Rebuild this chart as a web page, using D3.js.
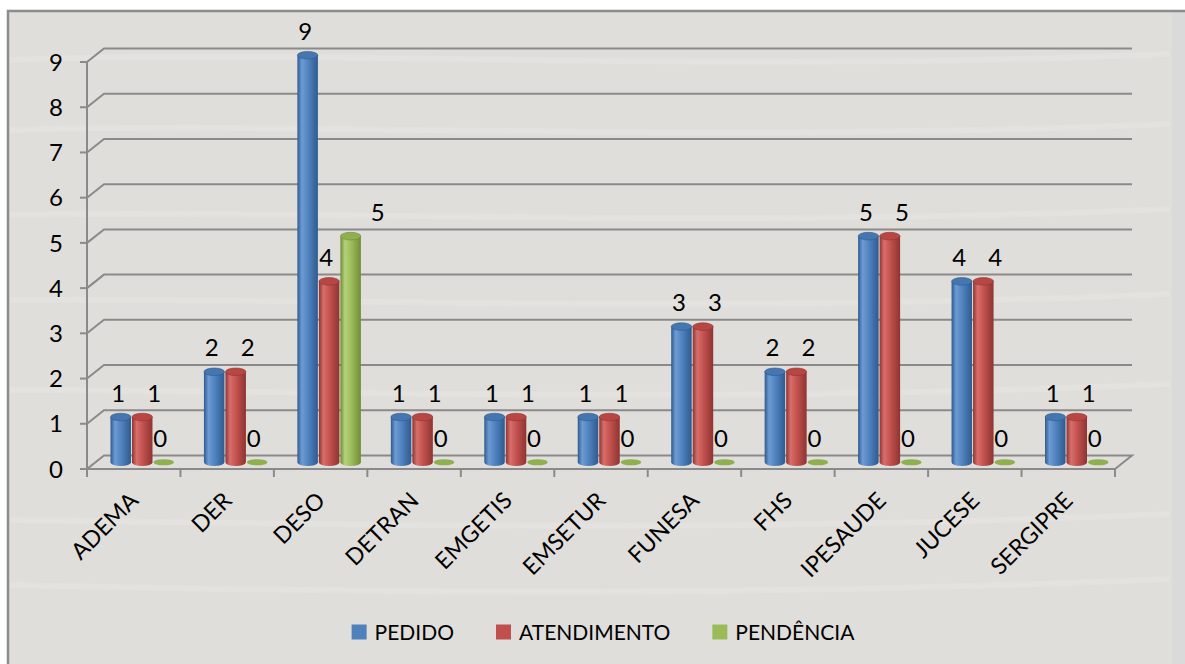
<!DOCTYPE html>
<html lang="pt">
<head>
<meta charset="UTF-8">
<title>Pedidos por órgão</title>
<script src="https://cdn.jsdelivr.net/npm/d3@7/dist/d3.min.js"></script>
<style>
    body { margin: 0; background: #fff; }
    text { font-family: Lato, "Open Sans", sans-serif; fill: #000; }
</style>
</head>
<body>
<script>
    // data
    const categories = ["ADEMA", "DER", "DESO", "DETRAN", "EMGETIS", "EMSETUR", "FUNESA", "FHS", "IPESAUDE", "JUCESE", "SERGIPRE"];
    const pedido = [1, 2, 9, 1, 1, 1, 3, 2, 5, 4, 1];
    const atendimento = [1, 2, 4, 1, 1, 1, 3, 2, 5, 4, 1];
    const pendencia = [0, 0, 5, 0, 0, 0, 0, 0, 0, 0, 0];
    const seriesNames = ["PEDIDO", "ATENDIMENTO", "PENDÊNCIA"];
    const yTicks = [0, 1, 2, 3, 4, 5, 6, 7, 8, 9];

    const width = 1185, height = 664;
    const colors = {
        PEDIDO: {base: "#4f81bd", light: "#6d9bd4", dark: "#2e5a8f", top: "#4676b0"},
        ATENDIMENTO: {base: "#c0504d", light: "#d86e6b", dark: "#8e3432", top: "#b84744"},
        "PENDÊNCIA": {base: "#9bbb59", light: "#b4d27a", dark: "#6f8c37", top: "#8fb04e"}
    };
    const values = {PEDIDO: pedido, ATENDIMENTO: atendimento, "PENDÊNCIA": pendencia};

    // 3d depth of the floor / back wall
    const depthX = 17, depthY = -13.5;

    const svg = d3.select("body").append("svg")
        .attr("width", width)
        .attr("height", height);

    const defs = svg.append("defs");
    seriesNames.forEach(function (s, i) {
        const c = colors[s];
        const g = defs.append("linearGradient")
            .attr("id", "cyl" + i)
            .attr("x1", "0%").attr("x2", "100%").attr("y1", "0%").attr("y2", "0%");
        g.append("stop").attr("offset", "0%").attr("stop-color", c.dark);
        g.append("stop").attr("offset", "22%").attr("stop-color", c.light);
        g.append("stop").attr("offset", "55%").attr("stop-color", c.base);
        g.append("stop").attr("offset", "100%").attr("stop-color", c.dark);
    });

    // background frame
    svg.append("rect")
        .attr("x", 8).attr("y", 11)
        .attr("width", width - 8).attr("height", height - 11)
        .attr("fill", "#e0dedb");
    svg.append("rect")
        .attr("x", 1172).attr("y", 12)
        .attr("width", 13).attr("height", height - 12)
        .attr("fill", "#dadada");
    svg.append("path")
        .attr("d", "M8,664 L8,11 L1185,11")
        .attr("fill", "none")
        .attr("stroke", "#8c8c8c")
        .attr("stroke-width", 2.5);

    // faint streaks of the texture
    const streaks = [60, 130, 215, 300, 390, 520, 585];
    svg.append("g").selectAll("path")
        .data(streaks)
        .enter().append("path")
        .attr("d", function (d, i) {
            return "M10," + d + " C300," + (d - 12 + i * 3) + " 700," + (d + 14) + " 1170," + (d - 6);
        })
        .attr("fill", "none")
        .attr("stroke", "#e7e5e3")
        .attr("stroke-width", 6)
        .attr("opacity", 0.5);

    const y = d3.scaleLinear().domain([0, 9]).range([469, 62]);
    const x = d3.scaleBand().domain(categories).range([87, 1115]).padding(0);
    const xs = d3.scaleBand().domain(seriesNames).range([-32.25, 32.25]).padding(0);
    const bw = xs.bandwidth();

    // gridlines (front-left diagonal then back wall)
    const grid = svg.append("g");
    grid.selectAll("path")
        .data(yTicks)
        .enter().append("path")
        .attr("d", function (d) {
            const yy = y(d);
            let p = "M87," + yy + " L" + (87 + depthX) + "," + (yy + depthY) + " L" + (1115 + depthX) + "," + (yy + depthY);
            if (d === 0) p += " L1115," + yy;
            return p;
        })
        .attr("fill", "none")
        .attr("stroke", "#8a8a8a")
        .attr("stroke-width", 2);

    // axes
    svg.append("line")
        .attr("x1", 87).attr("x2", 87).attr("y1", y(0)).attr("y2", y(9))
        .attr("stroke", "#8a8a8a").attr("stroke-width", 2);
    svg.append("line")
        .attr("x1", 87).attr("x2", 1115).attr("y1", y(0)).attr("y2", y(0))
        .attr("stroke", "#8a8a8a").attr("stroke-width", 2);

    svg.append("g").selectAll("line")
        .data(yTicks)
        .enter().append("line")
        .attr("x1", 80).attr("x2", 87)
        .attr("y1", function (d) { return y(d); })
        .attr("y2", function (d) { return y(d); })
        .attr("stroke", "#8a8a8a").attr("stroke-width", 2);

    svg.append("g").selectAll("text")
        .data(yTicks)
        .enter().append("text")
        .attr("x", 63)
        .attr("y", function (d) { return y(d); })
        .attr("dy", "0.36em")
        .attr("text-anchor", "end")
        .style("font-size", "24px")
        .text(function (d) { return d; });

    const catTicks = categories.map(function (c) { return x(c); }).concat([1115]);
    svg.append("g").selectAll("line")
        .data(catTicks)
        .enter().append("line")
        .attr("x1", function (d) { return d; })
        .attr("x2", function (d) { return d; })
        .attr("y1", y(0)).attr("y2", y(0) + 8)
        .attr("stroke", "#8a8a8a").attr("stroke-width", 2);

    svg.append("g").selectAll("text")
        .data(categories)
        .enter().append("text")
        .attr("transform", function (d) {
            return "translate(" + (x(d) + x.bandwidth() / 2 + 6) + "," + 502 + ") rotate(-45)";
        })
        .attr("text-anchor", "end")
        .style("font-size", "23px")
        .text(function (d) { return d; });

    // cylinders
    const ry = 3.8;
    const baseY = y(0) + depthY / 2;
    const bars = [];
    categories.forEach(function (c, ci) {
        seriesNames.forEach(function (s, si) {
            bars.push({cat: c, ci: ci, series: s, si: si, value: values[s][ci]});
        });
    });

    function centerX(d) {
        return x(d.cat) + x.bandwidth() / 2 + depthX / 2 + xs(d.series) + bw / 2;
    }

    function topY(d) {
        return y(d.value) + depthY / 2;
    }

    const barG = svg.append("g");
    bars.forEach(function (d) {
        const cx = centerX(d), rx = bw / 2 - 0.5;
        const c = colors[d.series];
        if (d.value === 0) {
            barG.append("ellipse")
                .attr("cx", cx).attr("cy", baseY)
                .attr("rx", rx).attr("ry", ry * 0.8)
                .attr("fill", c.top);
            return;
        }
        const t = topY(d);
        barG.append("path")
            .attr("d", "M" + (cx - rx) + "," + t + " L" + (cx - rx) + "," + baseY +
                " A" + rx + "," + ry + " 0 0 0 " + (cx + rx) + "," + baseY +
                " L" + (cx + rx) + "," + t + " Z")
            .attr("fill", "url(#cyl" + d.si + ")");
        barG.append("ellipse")
            .attr("cx", cx).attr("cy", t)
            .attr("rx", rx).attr("ry", ry)
            .attr("fill", c.top)
            .attr("stroke", c.dark)
            .attr("stroke-width", 0.6);
    });

    // value labels, shifted like the original 3d labels
    function labelX(d) {
        const cx = centerX(d);
        if (d.si === 0) return cx - 2.5;
        if (d.si === 1) {
            const next = values[seriesNames[2]][d.ci];
            return next > d.value ? cx - 3 : cx + 12;
        }
        return d.value === 0 ? cx - 3.5 : cx + 27;
    }

    svg.append("g").selectAll("text")
        .data(bars)
        .enter().append("text")
        .attr("x", labelX)
        .attr("y", function (d) { return topY(d) - 24; })
        .attr("dy", "0.36em")
        .attr("text-anchor", "middle")
        .style("font-size", "24px")
        .text(function (d) { return d.value; });

    // legend
    const legend = svg.append("g");
    const items = legend.selectAll("g")
        .data(seriesNames)
        .enter().append("g");
    items.append("rect")
        .attr("width", 15).attr("height", 15)
        .attr("y", -7.5)
        .attr("fill", function (d) { return colors[d].base; });
    items.append("text")
        .attr("x", 23)
        .attr("dy", "0.36em")
        .style("font-size", "21px")
        .text(function (d) { return d; });

    let pos = 0;
    const offsets = [];
    items.each(function () {
        offsets.push(pos);
        pos += 23 + d3.select(this).select("text").node().getComputedTextLength() + 42;
    });
    const total = pos - 42;
    const start = 603 - total / 2;
    items.attr("transform", function (d, i) {
        return "translate(" + (start + offsets[i]) + ",632)";
    });
</script>
</body>
</html>
